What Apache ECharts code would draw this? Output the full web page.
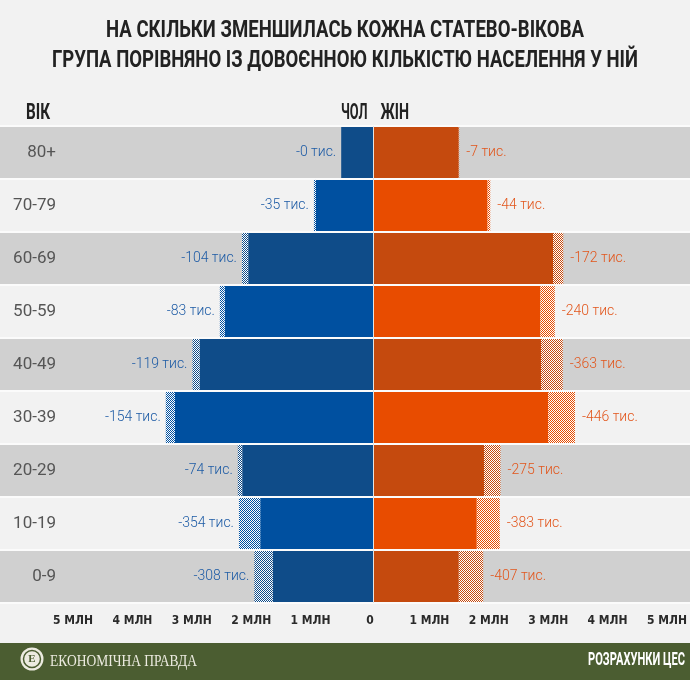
<!DOCTYPE html>
<html><head><meta charset="utf-8">
<script src="https://cdn.jsdelivr.net/npm/echarts@6/dist/echarts.min.js"></script>
<style>html,body{margin:0;padding:0;background:#f2f2f2}#c{width:690px;height:680px}</style>
</head><body><div id="c"></div>
<script>
// ---- data ----
const ageGroups  = ['80+','70-79','60-69','50-59','40-49','30-39','20-29','10-19','0-9'];
const maleNow    = [0.53, 0.95, 2.08, 2.47, 2.89, 3.30, 2.18, 1.88, 1.67];   // млн, нинішня кількість
const maleLoss   = [0, 35, 104, 83, 119, 154, 74, 354, 308];                 // тис., зменшення
const femaleNow  = [1.43, 1.91, 3.00, 2.79, 2.80, 2.92, 1.85, 1.73, 1.43];  // млн
const femaleLoss = [7, 44, 172, 240, 363, 446, 275, 383, 407];               // тис.
const tickMin = -5, tickMax = 5, tickStep = 1;
const titleLines = ['НА СКІЛЬКИ ЗМЕНШИЛАСЬ КОЖНА СТАТЕВО-ВІКОВА',
                    'ГРУПА ПОРІВНЯНО ІЗ ДОВОЄННОЮ КІЛЬКІСТЮ НАСЕЛЕННЯ У НІЙ'];
const headerAge = 'ВІК', headerMale = 'ЧОЛ', headerFemale = 'ЖІН';
const footerLeft = 'ЕКОНОМІЧНА ПРАВДА', footerRight = 'РОЗРАХУНКИ ЦЕС';

// ---- helpers ----
const mctx = document.createElement('canvas').getContext('2d');
function hasFont(name){
  const s = 'abcdefghijklmnopqrstuvwxyzМЛНЖІ0123456789';
  let diff = false;
  ['monospace','serif'].forEach(fb=>{
    mctx.font = '20px ' + fb; const a = mctx.measureText(s).width;
    mctx.font = "20px '" + name + "', " + fb; const b = mctx.measureText(s).width;
    if (a !== b) diff = true;
  });
  return diff;
}
const condFont = ['Liberation Sans Narrow','DejaVu Sans Condensed','Roboto Condensed','Open Sans Condensed'].find(hasFont) || 'Roboto';
function fitText(text, x, y, width, align, font, fill){
  mctx.font = font;
  const w = mctx.measureText(text).width;
  return {type:'text', x:x, y:y, scaleX: width / w, scaleY: 1, z: 10,
          style:{text:text, font:font, fill:fill, align:align, verticalAlign:'middle', x:0, y:0}};
}
function pattern(color){
  const c = document.createElement('canvas'); c.width = 2; c.height = 2;
  const g = c.getContext('2d');
  g.fillStyle = '#ffffff'; g.fillRect(0,0,2,2);
  g.fillStyle = color; g.fillRect(0,0,1,1); g.fillRect(1,1,1,1);
  return {image: c, repeat: 'repeat'};
}

// ---- styles ----
const darkBlue = '#0f4c89', lightBlue = '#0050a0', darkOrange = '#c54a0e', lightOrange = '#e84c00';
const patDB = pattern(darkBlue), patLB = pattern(lightBlue), patDO = pattern(darkOrange), patLO = pattern(lightOrange);
const X0 = 373, PX = 60, W = 690;               // zero position and pixels per million
const gridTop = 126, gridBottom = 77;
const labelFont = 'Roboto';

const chart = echarts.init(document.getElementById('c'), null, {renderer:'canvas'});
const barCommon = {type:'bar', xAxisIndex:0, yAxisIndex:0, barCategoryGap:'3.6%', barGap:'-100%', stackStrategy:'all', silent:true, animation:false};

chart.setOption({
  backgroundColor:'#f2f2f2',
  animation:false,
  grid:[
    {left:0, right:0, top:gridTop, bottom:gridBottom},
    {left:X0 - 5*PX, right:W - X0 - 5*PX, top:gridTop, bottom:gridBottom}
  ],
  xAxis:[
    {gridIndex:0, type:'value', min:-X0/PX, max:(W-X0)/PX, show:false},
    {gridIndex:1, type:'value', min:tickMin, max:tickMax, interval:tickStep,
     axisLine:{show:false}, axisTick:{show:false}, splitLine:{show:false},
     axisLabel:{margin:12, color:'#2a2a2a', fontSize:12, fontWeight:'bold', fontFamily:condFont,
       formatter: v => v === 0 ? '0' : Math.abs(v) + ' МЛН'}}
  ],
  yAxis:[
    {gridIndex:0, type:'category', data:ageGroups, inverse:true,
     axisLine:{show:false}, axisTick:{show:false},
     axisLabel:{inside:true, align:'right', margin:56, color:'#555555', fontSize:17, fontFamily:labelFont},
     splitArea:{show:true, areaStyle:{color:['#d0d0d0','#f2f2f2']}},
     splitLine:{show:true, lineStyle:{color:'#fbfbfb', width:2}}},
    {gridIndex:1, type:'category', data:ageGroups, inverse:true, show:false}
  ],
  series:[
    Object.assign({}, barCommon, {name:'Чол', stack:'m',
      data: maleNow.map((v,i)=>({value:-v, itemStyle:{color: i%2 ? lightBlue : darkBlue}}))}),
    Object.assign({}, barCommon, {name:'Чол зменшення', stack:'m',
      data: maleLoss.map((v,i)=>({value:-v/1000, itemStyle:{color: i%2 ? patLB : patDB}})),
      label:{show:true, position:'left', distance:5, color:'#1d5ba5', fontSize:14, fontFamily:labelFont, fontWeight:300,
        formatter: p => '-' + maleLoss[p.dataIndex] + ' тис.'}}),
    Object.assign({}, barCommon, {name:'Жін', stack:'f',
      data: femaleNow.map((v,i)=>({value:v, itemStyle:{color: i%2 ? lightOrange : darkOrange}})),
      markLine:{silent:true, symbol:'none', label:{show:false}, lineStyle:{color:'#e4e4e4', width:1, type:'solid'},
        data:[{xAxis:0}]}}),
    Object.assign({}, barCommon, {name:'Жін зменшення', stack:'f',
      data: femaleLoss.map((v,i)=>({value:v/1000, itemStyle:{color: i%2 ? patLO : patDO}})),
      label:{show:true, position:'right', distance:7, color:'#e2561c', fontSize:14, fontFamily:labelFont, fontWeight:300,
        formatter: p => '-' + femaleLoss[p.dataIndex] + ' тис.'}})
  ],
  graphic:[
    fitText(titleLines[0], 345, 31.5, 478, 'center', 'bold 23px Roboto', '#222222'),
    fitText(titleLines[1], 345, 61, 586, 'center', 'bold 23px Roboto', '#222222'),
    fitText(headerAge, 26, 113, 24, 'left', 'bold 22px Roboto', '#222222'),
    fitText(headerMale, 367.5, 113, 26.5, 'right', 'bold 22px Roboto', '#222222'),
    fitText(headerFemale, 380.6, 113, 28.4, 'left', 'bold 22px Roboto', '#222222'),
    {type:'rect', left:0, top:643, z:5, shape:{width:690, height:37}, style:{fill:'#4b5d31'}},
    {type:'circle', z:11, shape:{cx:32, cy:659, r:11.5}, style:{fill:'#ecebe0'}},
    {type:'circle', z:12, shape:{cx:32, cy:659, r:8.5}, style:{fill:'none', stroke:'#4b5d31', lineWidth:1.5}},
    {type:'text', z:13, x:32, y:659, style:{text:'Е', font:'bold 11px "Liberation Serif"', fill:'#4b5d31', align:'center', verticalAlign:'middle'}},
    fitText(footerLeft, 50, 661.5, 147, 'left', '16px "Liberation Serif"', '#ecebe0'),
    fitText(footerRight, 685, 660, 97, 'right', 'bold 18px Roboto', '#ffffff')
  ]
});
</script>
</body></html>
